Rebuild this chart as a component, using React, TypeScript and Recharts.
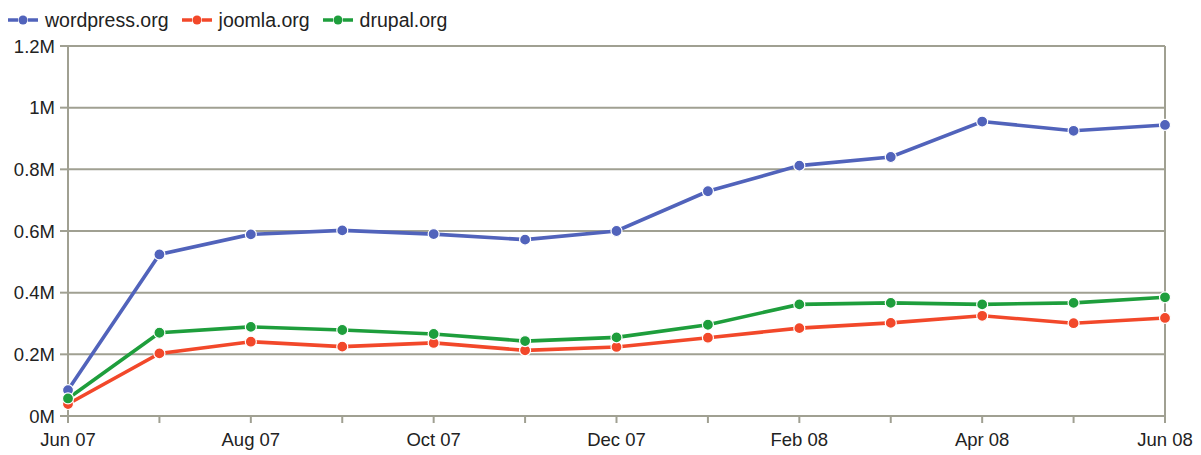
import React from 'react';
import { LineChart, Line, XAxis, YAxis, CartesianGrid, ReferenceLine } from 'recharts';

const months = ['Jun 07', 'Jul 07', 'Aug 07', 'Sep 07', 'Oct 07', 'Nov 07', 'Dec 07', 'Jan 08', 'Feb 08', 'Mar 08', 'Apr 08', 'May 08', 'Jun 08'];
const wordpress = [0.084, 0.524, 0.589, 0.602, 0.59, 0.572, 0.6, 0.729, 0.812, 0.84, 0.955, 0.925, 0.944];
const joomla = [0.039, 0.203, 0.241, 0.225, 0.237, 0.213, 0.224, 0.254, 0.285, 0.302, 0.325, 0.301, 0.318];
const drupal = [0.057, 0.27, 0.289, 0.279, 0.266, 0.243, 0.255, 0.296, 0.362, 0.367, 0.362, 0.367, 0.385];
const yTicks = [0, 0.2, 0.4, 0.6, 0.8, 1, 1.2];
const xTicks = months.map((_, i) => i);

const series = [
  { key: 'wordpress', name: 'wordpress.org', color: '#5163bb' },
  { key: 'joomla', name: 'joomla.org', color: '#f2482a' },
  { key: 'drupal', name: 'drupal.org', color: '#1e9e3c' },
];

const data = months.map((m, i) => ({ i, month: m, wordpress: wordpress[i], joomla: joomla[i], drupal: drupal[i] }));

const FONT = '"Liberation Sans", Arial, sans-serif';
const GRID = '#a0a092';

function LegendBox() {
  return (
    <div style={{ position: 'absolute', left: 8, top: 8, display: 'flex', alignItems: 'center', fontFamily: FONT, fontSize: 19.5, color: '#222', lineHeight: '24px' }}>
      {series.map((s) => (
        <div key={s.key} style={{ display: 'flex', alignItems: 'center', marginRight: 13 }}>
          <svg width={30} height={12} style={{ marginRight: 7 }}>
            <line x1={0} y1={6} x2={10} y2={6} stroke={s.color} strokeWidth={3.5} />
            <line x1={20} y1={6} x2={30} y2={6} stroke={s.color} strokeWidth={3.5} />
            <circle cx={15} cy={6} r={4.5} fill={s.color} />
          </svg>
          <span>{s.name}</span>
        </div>
      ))}
    </div>
  );
}

export default function App() {
  return (
    <div style={{ position: 'absolute', left: 0, top: 0, width: 1201, height: 455, background: '#fff' }}>
      <LineChart width={1201} height={455} data={data} margin={{ top: 46, right: 36, bottom: 9, left: 8 }}>
        <CartesianGrid vertical={false} stroke={GRID} strokeWidth={2} />
        <XAxis
          dataKey="i"
          type="number"
          domain={[0, 12]}
          ticks={xTicks}
          interval={0}
          height={30}
          tickFormatter={(v: number) => (v % 2 === 0 ? months[v] : '')}
          tick={{ fill: '#222', fontSize: 18.5, fontFamily: FONT }}
          tickSize={7}
          tickMargin={10}
          axisLine={{ stroke: GRID, strokeWidth: 2 }}
          tickLine={{ stroke: GRID, strokeWidth: 2 }}
        />
        <YAxis
          type="number"
          domain={[0, 1.2]}
          ticks={yTicks}
          width={60}
          interval={0}
          tickFormatter={(v: number) => `${Number(v.toFixed(1))}M`}
          tick={{ fill: '#222', fontSize: 18.5, fontFamily: FONT }}
          tickSize={8}
          tickMargin={5}
          axisLine={{ stroke: GRID, strokeWidth: 2 }}
          tickLine={{ stroke: GRID, strokeWidth: 2 }}
        />
        <ReferenceLine x={12} stroke={GRID} strokeWidth={2} />
        {series.map((s) => (
          <Line
            key={s.key}
            dataKey={s.key}
            name={s.name}
            stroke={s.color}
            strokeWidth={3.6}
            dot={{ r: 5.5, fill: s.color, stroke: '#fff', strokeWidth: 1.2 }}
            activeDot={false}
            isAnimationActive={false}
          />
        ))}
      </LineChart>
      <LegendBox />
    </div>
  );
}
